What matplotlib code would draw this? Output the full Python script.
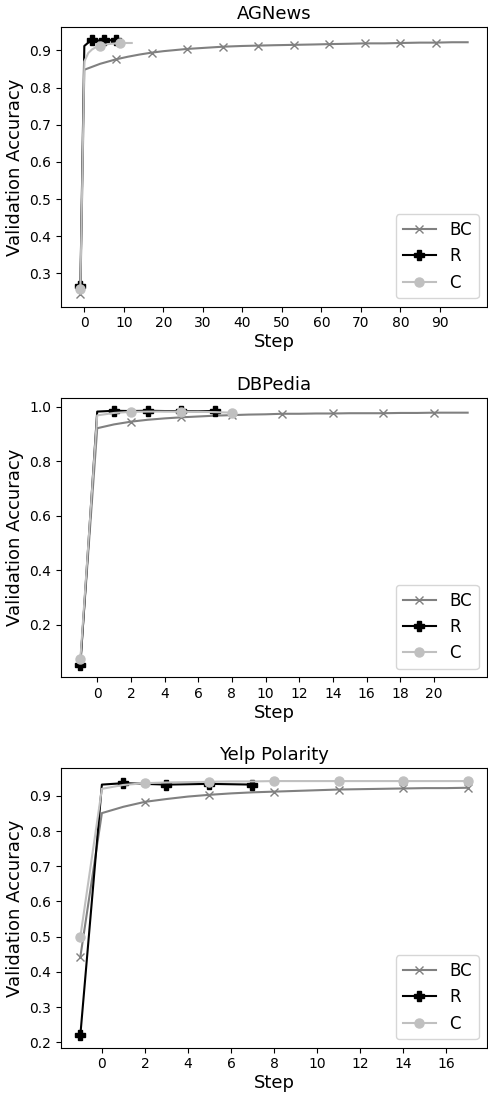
import matplotlib
matplotlib.use("Agg")
import matplotlib.pyplot as plt

# ---------------- data ----------------
# AGNews
ag_bc_steps = [-1, 0, 1, 2, 3, 4, 5, 6, 8, 11, 14, 17, 20, 23, 26, 29, 32, 35,
               40, 44, 48, 53, 58, 62, 67, 71, 76, 80, 85, 89, 93, 97]
ag_bc_acc = [0.245, 0.848, 0.852, 0.856, 0.860, 0.864, 0.867, 0.870, 0.876,
             0.883, 0.889, 0.894, 0.898, 0.901, 0.904, 0.906, 0.908, 0.910,
             0.912, 0.913, 0.914, 0.915, 0.916, 0.917, 0.918, 0.919, 0.919,
             0.920, 0.921, 0.921, 0.922, 0.922]
ag_r_steps = [-1, 0, 1, 2, 3, 4, 5, 6, 7, 8]
ag_r_acc = [0.265, 0.912, 0.921, 0.927, 0.926, 0.927, 0.928, 0.927, 0.928, 0.928]
ag_c_steps = [-1, 0, 1, 2, 3, 4, 5, 6, 7, 8, 9, 10, 11, 12]
ag_c_acc = [0.258, 0.870, 0.893, 0.903, 0.909, 0.913, 0.915, 0.917, 0.918,
            0.919, 0.920, 0.920, 0.920, 0.920]

# DBPedia
db_bc_steps = [-1, 0, 1, 2, 3, 4, 5, 6, 7, 8, 9, 10, 11, 12, 13, 14, 15, 16,
               17, 18, 19, 20, 21, 22]
db_bc_acc = [0.065, 0.921, 0.935, 0.945, 0.952, 0.957, 0.961, 0.964, 0.967,
             0.969, 0.971, 0.972, 0.974, 0.974, 0.975, 0.975, 0.976, 0.976,
             0.976, 0.977, 0.977, 0.978, 0.978, 0.978]
db_r_steps = [-1, 0, 1, 2, 3, 4, 5, 6, 7]
db_r_acc = [0.054, 0.982, 0.985, 0.984, 0.985, 0.984, 0.984, 0.983, 0.984]
db_c_steps = [-1, 0, 1, 2, 3, 4, 5, 6, 7, 8]
db_c_acc = [0.073, 0.968, 0.977, 0.981, 0.982, 0.982, 0.982, 0.981, 0.980, 0.978]

# Yelp Polarity
yp_bc_steps = [-1, 0, 1, 2, 3, 4, 5, 6, 7, 8, 9, 10, 11, 12, 13, 14, 15, 16, 17]
yp_bc_acc = [0.443, 0.851, 0.869, 0.883, 0.891, 0.898, 0.903, 0.907, 0.910,
             0.912, 0.914, 0.916, 0.918, 0.919, 0.920, 0.921, 0.922, 0.922, 0.923]
yp_r_steps = [-1, 0, 1, 2, 3, 4, 5, 6, 7]
yp_r_acc = [0.221, 0.932, 0.936, 0.934, 0.932, 0.933, 0.934, 0.933, 0.932]
yp_c_steps = [-1, 0, 1, 2, 3, 4, 5, 6, 7, 8, 9, 10, 11, 12, 13, 14, 15, 16, 17]
yp_c_acc = [0.500, 0.920, 0.931, 0.936, 0.938, 0.939, 0.940, 0.941, 0.941,
            0.942, 0.942, 0.942, 0.942, 0.942, 0.942, 0.942, 0.942, 0.942, 0.942]

panels = [
    ("AGNews", (ag_bc_steps, ag_bc_acc, 9), (ag_r_steps, ag_r_acc, 3),
     (ag_c_steps, ag_c_acc, 5), range(0, 100, 10)),
    ("DBPedia", (db_bc_steps, db_bc_acc, 3), (db_r_steps, db_r_acc, 2),
     (db_c_steps, db_c_acc, 3), range(0, 22, 2)),
    ("Yelp Polarity", (yp_bc_steps, yp_bc_acc, 3), (yp_r_steps, yp_r_acc, 2),
     (yp_c_steps, yp_c_acc, 3), range(0, 18, 2)),
]


def marks(steps, every):
    # marker on the first step and then every `every` steps
    return [i for i, s in enumerate(steps) if (s - steps[0]) % every == 0]


# ---------------- figure ----------------
fig = plt.figure(figsize=(4.88, 10.93), dpi=100)
bottoms = [0.7195, 0.3803, 0.0415]

for (title, bc, r, c, ticks), b in zip(panels, bottoms):
    ax = fig.add_axes([0.125, b, 0.873, 0.2555])
    ax.plot(bc[0], bc[1], color="grey", marker="x", markevery=marks(bc[0], bc[2]),
            label="BC")
    ax.plot(r[0], r[1], color="black", marker="P", markersize=7,
            markevery=marks(r[0], r[2]), label="R")
    ax.plot(c[0], c[1], color="silver", marker="o", markersize=6.5,
            markevery=marks(c[0], c[2]), label="C")
    ax.set_xticks(list(ticks))
    ax.set_title(title, fontsize=13)
    ax.set_xlabel("Step", fontsize=13, labelpad=2)
    ax.set_ylabel("Validation Accuracy", fontsize=13)
    ax.legend(loc="lower right", fontsize=12)

fig.savefig("out.png", dpi=100)
